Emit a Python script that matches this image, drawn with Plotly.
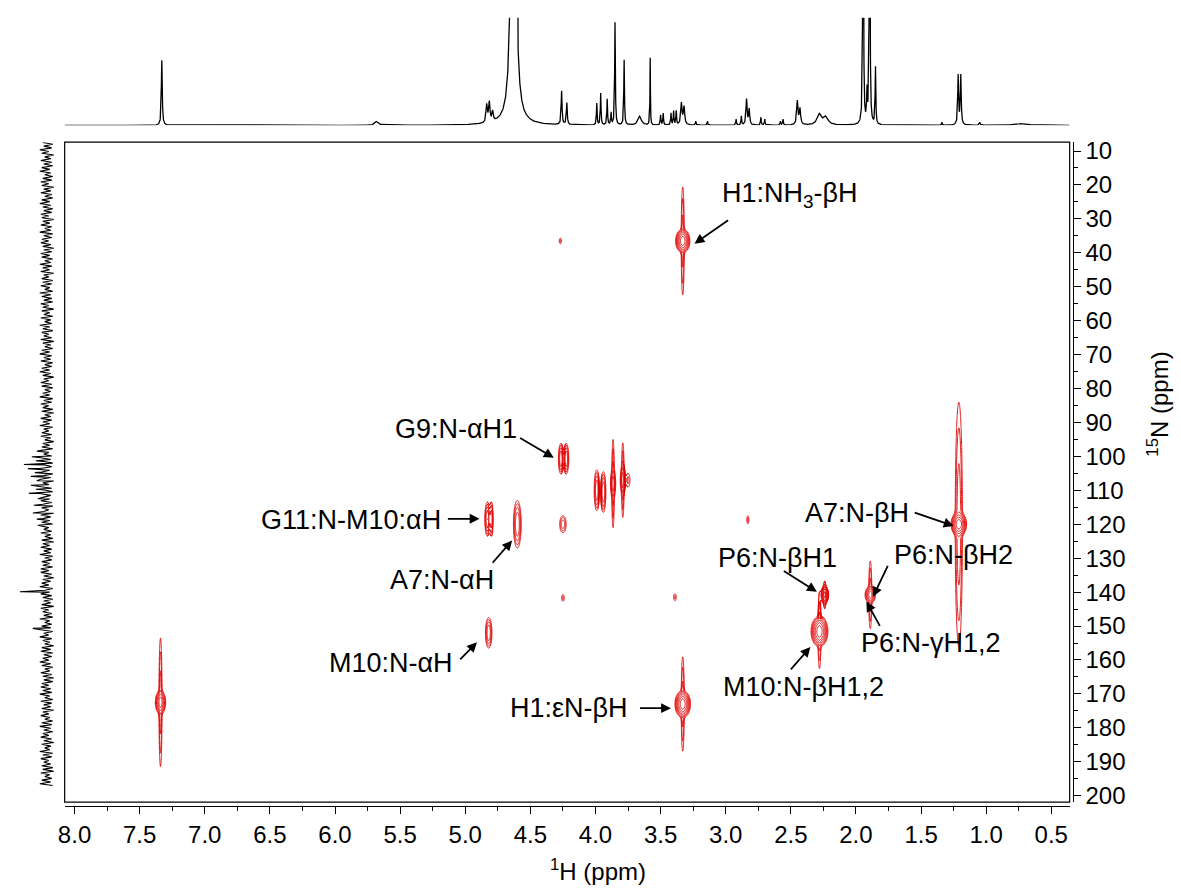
import numpy as np
import plotly.graph_objects as go

# ---------------- data ----------------
# 1H projection (top): peak positions (ppm), apparent heights (px units), half widths (ppm)
h1_ppm = [7.33, 5.68, 4.835, 4.815, 4.79, 4.63, 4.26, 4.22, 3.99, 3.96, 3.91, 3.88, 3.85, 3.78,
          3.66, 3.58, 3.50, 3.48, 3.42, 3.40, 3.38, 3.34, 3.32, 3.23, 3.14, 2.92, 2.88, 2.84, 2.82,
          2.73, 2.70, 2.58, 2.56, 2.45, 2.43, 2.28, 2.23, 1.945, 1.915, 1.895, 1.85, 1.34, 1.215,
          1.195, 1.05, 0.72]
h1_int = [66, 4, 18, 20, 10, 1080, 34, 22, 22, 32, 26, 12, 104, 66,
          9, 68, 10, 12, 12, 14, 14, 22, 18, 4, 4, 6, 9, 26, 16,
          8, 6, 4, 6, 24, 16, 11, 8, 500, 30, 500, 58, 3, 50,
          50, 3, 2]
h1_wid = [0.004, 0.015, 0.006, 0.006, 0.006, 0.010, 0.004, 0.004, 0.003, 0.003, 0.003, 0.003, 0.003, 0.003,
          0.015, 0.002, 0.003, 0.003, 0.003, 0.003, 0.003, 0.006, 0.006, 0.003, 0.003, 0.003, 0.003, 0.005, 0.005,
          0.003, 0.003, 0.003, 0.003, 0.006, 0.006, 0.02, 0.02, 0.0025, 0.003, 0.0025, 0.003, 0.003, 0.004,
          0.004, 0.005, 0.05]

# 15N projection (left): noise excursions and spikes (px units)
n15_noise = [
    4, -6, 3, -5, 7, -2, 5, -7, 2, -4, 6, -5, 3, -6, 5, -3, 7, -4, 2, -6, 4, -5, 6, -2, 5, -7, 3, -4, 6, -5,
    2, -6, 5, -3, 7, -4, 4, -6, 3, -5, 6, -2, 5, -7, 4, -3, 6, -5, 2, -4, 7, -6, 3, -5, 5, -2, 6, -4, 4, -7,
    3, -5, 6, -3, 5, -6, 2, -4, 7, -5, 4, -3, 6, -7, 3, -2, 5, -6, 4, -5, 6, -3, 2, -6, 7, -4, 5, -5, 3, -6,
    6, -2, 4, -7, 5, -3, 3, -6, 6, -4, 2, -5, 7, -3, 4, -6, 5, -2, 3, -5, 6, -7, 4, -4, 2, -6, 5, -3, 7, -5,
    3, -4, 6, -6, 2, -5, 5, -3, 7, -4, 4, -7, 3, -2, 6, -5, 5, -6, 2, -4, 4, -3, 7, -6, 3, -5, 6, -2, 4, -6,
    5, -7, 2, -4, 6, -5, 4, -3, 7, -6, 3, -2, 5, -5, 6, -4, 2, -7, 4, -3, 5, -6, 7, -2, 3, -5, 6, -4, 4, -6,
    2, -5, 7, -3, 5, -6, 3, -4, 6, -7, 4, -2, 5, -5, 2, -6, 7, -4, 3, -3, 6, -5, 4, -6, 5, -2, 3, -7, 6, -4,
    4, -3, 5, -6, 7, -2, 3, -5, 6, -4, 2, -6, 5, -7, 4, -3, 6, -5, 3, -4, 7, -6, 2, -5, 5, -3, 4, -6, 6, -2,
    6, -5, 3, -7, 4, -4, 5, -2, 7, -6, 2, -3, 6, -5, 4, -6, 3, -4, 5, -7, 6, -2, 4, -5, 3, -6, 7, -3, 2, -5,
    5, -4, 6, -6, 3, -2, 7, -5, 4, -3, 2, -7, 5, -4, 6, -6, 3, -5, 4, -2, 7, -4, 5, -6, 2, -3, 6, -5, 4, -7,
    3, -6, 5, -2, 6, -4, 4, -5, 7, -3, 2, -6, 6, -5, 3, -4, 5, -7, 4, -2, 6, -3, 2, -6, 5, -5, 7, -4, 3, -6,
    4, -2, 6, -5, 3, -7, 5, -4, 2, -3, 7, -6, 4, -5, 6, -2, 3, -4, 5, -6, 4, -7, 6, -3, 2, -5, 5, -4, 7, -6]
n15_noise_start = 7.5
n15_noise_end = 197.0
n15_spike_ppm = [98.5, 100.1, 101.3, 102.4, 103.6, 104.8, 105.9, 107.2, 108.5, 109.7, 110.9, 112.5,
                 114.4, 116.7, 118.5, 120.3, 139.9, 150.7]
n15_spike_int = [10, 15, 11, 23, 19, 12, 16, 10, 16, 11, 18, 9, 13, 14, 10, 9, 27, 14]

# 2D cross peaks
pk_h = [3.33, 4.27, 4.265, 4.225, 3.99, 3.94, 3.865, 3.79, 3.75, 4.83, 4.80, 4.60, 4.25, 4.25,
        4.82, 3.39, 2.83, 2.24, 2.28, 1.89, 1.21, 3.33, 7.34]
pk_n = [36.5, 36.5, 100.7, 100.7, 110.0, 110.5, 108.0, 107.0, 107.0, 118.5, 118.5, 120.0, 120.0, 141.7,
        152.0, 141.5, 118.7, 140.8, 151.6, 140.8, 120.0, 173.0, 172.5]
pk_core_lv = [5, 1, 3, 3, 3, 3, 3, 3, 1, 3, 2, 3, 2, 1,
              3, 1, 1, 3, 5, 4, 5, 5, 4]
pk_core_wh = [0.055, 0.008, 0.02, 0.02, 0.02, 0.02, 0.02, 0.02, 0.015, 0.02, 0.015, 0.03, 0.025, 0.01,
              0.025, 0.01, 0.008, 0.03, 0.065, 0.04, 0.06, 0.06, 0.04]
pk_core_wn = [3.5, 0.8, 4.5, 4.5, 6.0, 6.0, 4.0, 4.0, 2.0, 5.0, 5.0, 7.0, 2.5, 1.0,
              4.5, 1.0, 1.2, 2.5, 4.5, 2.5, 3.5, 4.0, 3.5]
pk_str_lv = [2, 0, 0, 0, 0, 0, 2, 2, 0, 0, 0, 0, 0, 0,
             0, 0, 0, 1, 2, 2, 2, 2, 2]
pk_str_wh = [0.012, 0, 0, 0, 0, 0, 0.01, 0.01, 0, 0, 0, 0, 0, 0,
             0, 0, 0, 0.008, 0.012, 0.012, 0.028, 0.012, 0.012]
pk_str_wn = [16, 0, 0, 0, 0, 0, 13, 11, 0, 0, 0, 0, 0, 0,
             0, 0, 0, 4, 11, 10, 36, 14, 19]

# axis ticks
x_ticks = [8.0, 7.5, 7.0, 6.5, 6.0, 5.5, 5.0, 4.5, 4.0, 3.5, 3.0, 2.5, 2.0, 1.5, 1.0, 0.5]
y_ticks = list(range(10, 201, 10))

# labels: text, text pos (H, N), arrow tail (H, N), arrow head (H, N)
lab_text = ["H1:NH<sub>3</sub>-βH", "G9:N-αH1", "G11:N-M10:αH", "A7:N-αH", "M10:N-αH", "H1:εN-βH",
            "A7:N-βH", "P6:N-βH1", "P6:N-βH2", "P6:N-γH1,2", "M10:N-βH1,2"]
lab_h = [2.51, 5.07, 5.88, 5.18, 5.57, 4.20, 1.99, 2.60, 1.25, 1.42, 2.40]
lab_n = [23.0, 92.0, 118.7, 136.5, 160.9, 174.2, 116.7, 129.8, 129.2, 155.1, 168.1]
tail_h = [2.97, 4.59, 5.145, 4.80, 5.05, 3.67, 1.56, 2.565, 1.75, 1.81, 2.51]
tail_n = [30.1, 94.3, 118.4, 131.8, 160.3, 174.2, 116.4, 133.5, 131.8, 150.4, 163.2]
head_h = [3.24, 4.32, 4.89, 4.64, 4.91, 3.42, 1.25, 2.30, 1.87, 1.92, 2.35]
head_n = [37.3, 100.4, 118.4, 124.8, 154.8, 174.2, 120.5, 139.9, 141.4, 142.8, 156.2]

# ---------------- layout helpers ----------------
W, H = 1181, 892


def fx(px):
    return px / W


def fy(py):
    return 1 - py / H


FONT = "Arial, Liberation Sans, Arimo, sans-serif"
RED = "#e00000"
x_range = [8.076, 0.359]
y_range = [201.9, 7.38]
xdom = [fx(58), fx(1069)]
ydom = [fy(808), fy(139)]

fig = go.Figure()


# ---------------- 2D contours ----------------
def total_intensity(X, Y):
    I = np.zeros_like(X)
    for i in range(len(pk_h)):
        dx = X - pk_h[i]
        dy = Y - pk_n[i]
        L = pk_core_lv[i]
        A = 2.0 ** L
        k = np.sqrt(2 * max(L, 0.5) * np.log(2))
        sx, sy = pk_core_wh[i] / k, pk_core_wn[i] / k
        I += A * np.exp(-0.5 * (dx / sx) ** 2 - 0.5 * (dy / sy) ** 2)
        Ls = pk_str_lv[i]
        if Ls > 0:
            As = 2.0 ** Ls
            ks = np.sqrt(2 * Ls * np.log(2))
            sxs, sys_ = pk_str_wh[i] / ks, pk_str_wn[i] / ks
            I += As * np.exp(-0.5 * (dx / sxs) ** 2 - 0.5 * (dy / sys_) ** 2)
    return I


for i in range(len(pk_h)):
    wx = max(pk_core_wh[i], pk_str_wh[i]) * 1.6 + 0.01
    wy = max(pk_core_wn[i], pk_str_wn[i]) * 1.3 + 2
    gx = np.linspace(pk_h[i] - wx, pk_h[i] + wx, 56)
    gy = np.linspace(pk_n[i] - wy, pk_n[i] + wy, 150)
    X, Y = np.meshgrid(gx, gy)
    Z = np.log2(np.maximum(total_intensity(X, Y), 0.25))
    fig.add_trace(go.Contour(
        x=np.round(gx, 4), y=np.round(gy, 3), z=np.round(Z, 3),
        xaxis="x", yaxis="y",
        contours=dict(start=0, end=8, size=0.75, coloring="lines"),
        colorscale=[[0, RED], [1, RED]], showscale=False,
        line=dict(width=0.9), hoverinfo="skip"))

# ---------------- top 1H projection ----------------
xs = np.arange(0.36, 8.076, 0.001)
spec = np.zeros_like(xs)
for p, h, w in zip(h1_ppm, h1_int, h1_wid):
    spec += h / (1 + ((xs - p) / w) ** 2)
fig.add_trace(go.Scatter(x=xs, y=spec, xaxis="x2", yaxis="y2", mode="lines",
                         line=dict(color="black", width=1.3), hoverinfo="skip"))

# ---------------- left 15N projection ----------------
npos = np.linspace(n15_noise_start, n15_noise_end, len(n15_noise))
pts = list(zip(npos, n15_noise)) + list(zip(n15_spike_ppm, n15_spike_int))
pts.sort(key=lambda t: t[0])
fig.add_trace(go.Scatter(x=[p[1] for p in pts], y=[p[0] for p in pts], xaxis="x3", yaxis="y",
                         mode="lines", line=dict(color="black", width=1.1), hoverinfo="skip"))

# ---------------- annotations ----------------
ann = []
for t, lh, ln in zip(lab_text, lab_h, lab_n):
    ann.append(dict(x=lh, y=ln, xref="x", yref="y", text=t, showarrow=False,
                    font=dict(family=FONT, size=27, color="black"), xanchor="center", yanchor="middle"))
for th, tn, hh, hn in zip(tail_h, tail_n, head_h, head_n):
    ann.append(dict(x=hh, y=hn, xref="x", yref="y", ax=th, ay=tn, axref="x", ayref="y",
                    text="", showarrow=True, arrowhead=2, arrowsize=1.1, arrowwidth=1.8,
                    arrowcolor="black", standoff=0, startstandoff=0))
ann.append(dict(x=fx(595), y=fy(877), xref="paper", yref="paper", text="<sup>1</sup>H (ppm)",
                showarrow=False, font=dict(family=FONT, size=24, color="black"),
                xanchor="center", yanchor="middle"))
ann.append(dict(x=fx(1157), y=fy(405), xref="paper", yref="paper", text="<sup>15</sup>N (ppm)",
                showarrow=False, textangle=-90, font=dict(family=FONT, size=24, color="black"),
                xanchor="center", yanchor="middle"))

fig.update_layout(
    width=W, height=H, margin=dict(l=0, r=0, t=0, b=0),
    paper_bgcolor="white", plot_bgcolor="white", showlegend=False,
    font=dict(family=FONT, size=24, color="black"),
    xaxis=dict(domain=xdom, range=x_range, anchor="free", position=fy(812),
               tickmode="array", tickvals=x_ticks, ticktext=["%.1f" % v for v in x_ticks],
               ticks="outside", ticklen=7, tickwidth=1, tickcolor="black",
               minor=dict(dtick=0.25, tick0=0, ticks="outside", ticklen=4, tickwidth=1, tickcolor="black"),
               showline=True, linecolor="black", linewidth=1, showgrid=False, zeroline=False,
               tickfont=dict(size=24)),
    yaxis=dict(domain=ydom, range=y_range, anchor="free", side="right", position=fx(1072),
               tickmode="array", tickvals=y_ticks, ticks="outside", ticklen=7, tickwidth=1,
               tickcolor="black",
               minor=dict(dtick=5, tick0=0, ticks="outside", ticklen=4, tickwidth=1, tickcolor="black"),
               showline=True, linecolor="black", linewidth=1, showgrid=False, zeroline=False,
               tickfont=dict(size=24)),
    xaxis2=dict(domain=xdom, matches="x", anchor="y2", visible=False),
    yaxis2=dict(domain=[fy(122), fy(13)], range=[0, 109], anchor="x2", visible=False),
    xaxis3=dict(domain=[fx(10), fx(52)], range=[30, -12], anchor="y", visible=False),
    shapes=[dict(type="rect", xref="paper", yref="paper", x0=xdom[0], x1=xdom[1], y0=ydom[0], y1=ydom[1],
                 line=dict(color="black", width=1.2))],
    annotations=ann,
)

fig.write_html("out.html", config={"displayModeBar": False},
               post_script="document.body.style.margin='0';")
